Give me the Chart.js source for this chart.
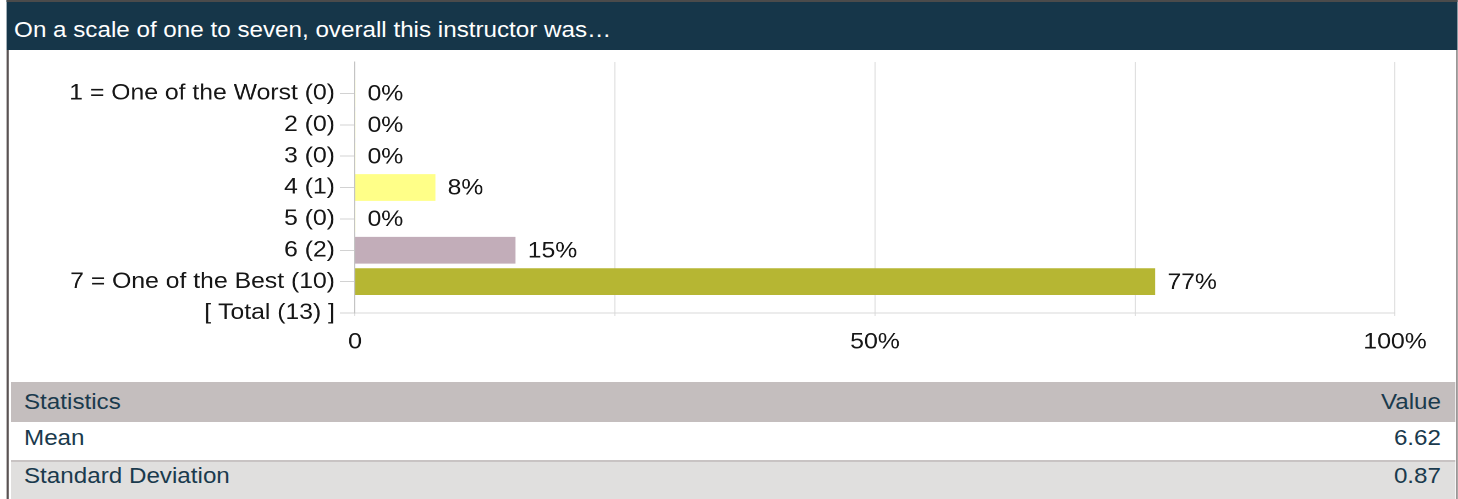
<!DOCTYPE html>
<html>
<head>
<meta charset="utf-8">
<script src="https://cdn.jsdelivr.net/npm/chart.js@4/dist/chart.umd.min.js"></script>
<style>
  body { margin: 0; background: #fff; overflow: hidden; }
  /* the reference is stretched horizontally, so the page is drawn narrower and scaled */
  #wrap {
    position: relative; width: 1325px; height: 499px;
    transform: scaleX(1.1); transform-origin: 0 0;
    font-family: "Liberation Sans", Arial, sans-serif; font-size: 22px;
  }
  #header {
    position: absolute; left: 6.4px; right: 0; top: 0; height: 40px;
    border-top: 2px solid #4b4b4b; background: #163649; color: #fff;
    padding: 8px 0 0 6.4px; line-height: 40px; white-space: nowrap;
  }
  .side { position: absolute; top: 50px; bottom: 0; background: #5a5353; }
  #chart-box { position: absolute; left: 0; top: 50px; width: 1325px; height: 330px; }
  #stats { position: absolute; left: 10px; top: 382px; width: 1312.7px; color: #1a3a4d; }
  .row { display: flex; justify-content: space-between; padding: 0 12.7px 0 11.8px; }
  .row.head { background: #c4bebe; height: 40px; line-height: 40px; }
  .row.mean { background: #fff; height: 38px; line-height: 31px; border-bottom: 2px solid #c8c3c3; }
  .row.sd { background: #e0dfde; height: 37px; line-height: 28px; }
</style>
</head>
<body>
<div id="wrap">
  <div id="header">On a scale of one to seven, overall this instructor was…</div>
  <div class="side" style="left:6px;width:2px;"></div>
  <div class="side" style="left:1323.5px;width:1.5px;"></div>
  <div id="chart-box"><canvas id="rating-chart" width="1325" height="330"></canvas></div>
  <div id="stats"></div>
</div>
<script>
// Data
const categories = ['1 = One of the Worst', '2', '3', '4', '5', '6', '7 = One of the Best'];
const counts = [0, 0, 0, 1, 0, 2, 10];
const total = 13;
const percents = [0, 0, 0, 7.7, 0, 15.4, 76.9];
const xTickValues = [0, 50, 100];
const xTickText = ['0', '50%', '100%'];
const statNames = ['Mean', 'Standard Deviation'];
const statValues = ['6.62', '0.87'];

const barColors = ['#ffff88', '#ffff88', '#ffff88', '#ffff88', '#ffff88', '#c2adb9', '#b6b633'];
const fontFamily = '"Liberation Sans", Arial, sans-serif';

// empty first slot leaves the gap above the first row, total row sits on the axis
const yLabels = ['', ...categories.map((c, i) => `${c} (${counts[i]})`), `[ Total (${total}) ]`];
const barData = [null, ...percents, null];

Chart.defaults.font.family = fontFamily;
Chart.defaults.font.size = 22.5;
Chart.defaults.color = '#161616';

// percentage text to the right of each bar
const valueLabels = {
    id: 'valueLabels',
    afterDatasetsDraw(chart) {
        const meta = chart.getDatasetMeta(0);
        const ctx = chart.ctx;
        ctx.save();
        ctx.font = '22.5px ' + fontFamily;
        ctx.fillStyle = '#161616';
        ctx.textAlign = 'left';
        ctx.textBaseline = 'middle';
        meta.data.forEach((bar, i) => {
            const v = barData[i];
            if (v === null) return;
            ctx.fillText(Math.round(v) + '%', bar.x + 11.4, bar.y + 1);
        });
        ctx.restore();
    }
};

new Chart(document.getElementById('rating-chart'), {
    type: 'bar',
    data: {
        labels: yLabels,
        datasets: [{
            data: barData,
            backgroundColor: [null, ...barColors, null],
            barThickness: 26,
            borderWidth: 0
        }]
    },
    options: {
        indexAxis: 'y',
        responsive: false,
        animation: false,
        devicePixelRatio: 2,
        layout: { padding: { top: 12, right: 56.8, left: 0, bottom: 0 } },
        plugins: { legend: { display: false }, tooltip: { enabled: false } },
        scales: {
            x: {
                min: 0,
                max: 100,
                afterFit: (scale) => { scale.height = 67; },
                grid: { color: '#e0e0e0', tickLength: 3 },
                border: { color: '#d8d8d8' },
                ticks: {
                    stepSize: 25,
                    padding: 13,
                    autoSkip: false,
                    maxRotation: 0,
                    callback: (v) => {
                        const k = xTickValues.indexOf(v);
                        return k >= 0 ? xTickText[k] : '';
                    }
                }
            },
            y: {
                offset: false,
                afterFit: (scale) => {
                    scale.width = 322.7;
                    scale.paddingTop = 0;
                    scale.paddingBottom = 0;
                },
                grid: {
                    offset: false,
                    drawOnChartArea: false,
                    tickLength: 13.7,
                    color: (c) => c.index === 0 ? 'rgba(0,0,0,0)' : '#d2d2d2'
                },
                border: { color: '#c4c4c4' },
                ticks: { padding: 4.5, autoSkip: false }
            }
        }
    },
    plugins: [valueLabels]
});

// statistics table
const stats = document.getElementById('stats');
stats.innerHTML = '<div class="row head"><span>Statistics</span><span>Value</span></div>' +
    statNames.map((n, i) => `<div class="row ${i === 0 ? 'mean' : 'sd'}"><span>${n}</span><span>${statValues[i]}</span></div>`).join('');
</script>
</body>
</html>
